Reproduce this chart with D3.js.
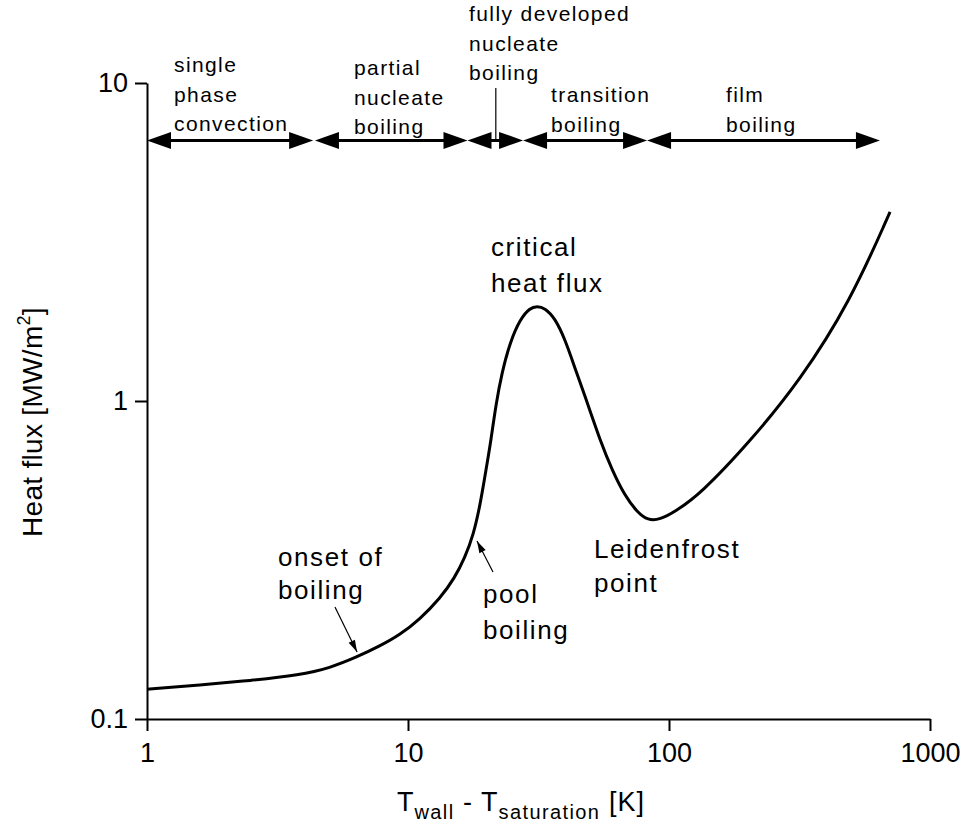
<!DOCTYPE html>
<html>
<head>
<meta charset="utf-8">
<script src="https://cdn.jsdelivr.net/npm/d3@7"></script>
<style>
  body { margin: 0; background: #fff; }
  svg { display: block; font-family: "Liberation Sans", Arial, sans-serif; }
</style>
</head>
<body>
<div class="vis"></div>
<script>
// boiling curve, values (K, MW/m2)
var deltaT = [1, 1.6, 2.48, 3.86, 5.02, 6.38, 7.81, 9.32, 11.1, 13.3, 15.1, 16.5, 17.8, 18.9, 19.9, 20.8, 21.7, 22.9, 24.6, 26.9, 29.3, 31.2, 33.5, 36.6, 40.0, 43.6, 49.0, 54.4, 60.5, 67.8, 75.4, 83.1, 92.4, 105, 132, 204, 318, 494, 703];
var heatFlux = [0.124, 0.128, 0.132, 0.1375, 0.1447, 0.1567, 0.1697, 0.184, 0.206, 0.240, 0.278, 0.321, 0.379, 0.471, 0.607, 0.754, 0.971, 1.23, 1.53, 1.81, 1.96, 1.99, 1.96, 1.82, 1.56, 1.27, 0.971, 0.754, 0.607, 0.503, 0.448, 0.421, 0.424, 0.448, 0.510, 0.744, 1.16, 2.05, 3.93];

var xTicks = [1, 10, 100, 1000];
var yTicks = [0.1, 1, 10];

// regimes across the top (arrow from start to end, in K)
var regimeNames = [["single", "phase", "convection"], ["partial", "nucleate", "boiling"], ["fully developed", "nucleate", "boiling"], ["transition", "boiling"], ["film", "boiling"]];
var regimeStart = [1, 4.4, 16.9, 27.6, 82.4];
var regimeEnd = [4.33, 16.9, 27.6, 82.4, 643];
var regimeFlux = 6.6;
var fullyDevMark = 21.7;

// labels on the curve and their pointers
var noteText = [["critical", "heat flux"], ["Leidenfrost", "point"], ["onset of", "boiling"], ["pool", "boiling"]];
var pointerFrom = [[5.25, 0.225], [21.17, 0.29]];
var pointerTo = [[6.38, 0.1624], [18.38, 0.363]];

var chart = {

  hold: {},

  setUp: function(){
    var svg = d3.select(".vis").append("svg")
      .attr("width", 966)
      .attr("height", 828);
    svg.append("rect").attr("width", 966).attr("height", 828).attr("fill", "#fff");
    chart.hold.svg = svg;

    chart.hold.x = d3.scaleLog().domain([1, 1000]).range([147, 930]);
    chart.hold.y = d3.scaleLog().domain([0.1, 10]).range([719, 83]);

    chart.drawAxes();
    chart.drawCurve();
    chart.drawRegimes();
    chart.drawNotes();
  },

  minors: function(lo, hi){
    var out = [];
    for (var d = lo; d < hi; d *= 10){
      for (var k = 2; k <= 9; k++) out.push(d * k);
    }
    return out;
  },

  drawAxes: function(){
    var svg = chart.hold.svg, x = chart.hold.x, y = chart.hold.y;

    var gx = svg.append("g").attr("transform", "translate(0,719)");
    gx.call(d3.axisBottom(x).tickValues(chart.minors(1, 1000)).tickSize(6).tickSizeOuter(0).tickFormat(""));
    gx.call(d3.axisBottom(x).tickValues(xTicks).tickSize(12).tickSizeOuter(0).tickPadding(12).tickFormat(d3.format("d")));

    var gy = svg.append("g").attr("transform", "translate(147,0)");
    gy.call(d3.axisLeft(y).tickValues(chart.minors(0.1, 10)).tickSize(6).tickSizeOuter(0).tickFormat(""));
    gy.call(d3.axisLeft(y).tickValues(yTicks).tickSize(12).tickSizeOuter(0).tickPadding(7).tickFormat(function(d){ return d < 1 ? "0.1" : d3.format("d")(d); }));

    svg.selectAll(".domain, .tick line").attr("stroke", "#000").attr("stroke-width", 2);
    svg.selectAll(".tick text")
      .attr("font-family", "Liberation Sans, Arial, sans-serif")
      .attr("font-size", 27)
      .attr("fill", "#000");

    // axis titles
    var xt = svg.append("text")
      .attr("x", 397).attr("y", 811)
      .attr("font-size", 27)
      .attr("letter-spacing", 1);
    xt.append("tspan").text("T");
    xt.append("tspan").attr("font-size", 20).attr("letter-spacing", 1.4).attr("dy", 8).text("wall");
    xt.append("tspan").attr("dy", -8).text(" - T");
    xt.append("tspan").attr("font-size", 20).attr("letter-spacing", 1.4).attr("dy", 8).text("saturation");
    xt.append("tspan").attr("dy", -8).text(" [K]");

    var yt = svg.append("text")
      .attr("transform", "translate(42,422) rotate(-90)")
      .attr("text-anchor", "middle")
      .attr("font-size", 28)
      .attr("letter-spacing", 0.3);
    yt.append("tspan").text("Heat flux [MW/m");
    yt.append("tspan").attr("font-size", 18).attr("dy", -12).text("2");
    yt.append("tspan").attr("dy", 12).text("]");
  },

  drawCurve: function(){
    var x = chart.hold.x, y = chart.hold.y;
    var pts = deltaT.map(function(d, i){ return [d, heatFlux[i]]; });
    var line = d3.line()
      .x(function(d){ return x(d[0]); })
      .y(function(d){ return y(d[1]); })
      .curve(d3.curveBasis);

    chart.hold.svg.append("path")
      .attr("d", line(pts))
      .attr("fill", "none")
      .attr("stroke", "#000")
      .attr("stroke-width", 3);
  },

  head: function(tx, ty, fx, fy, len, half){
    var a = Math.atan2(ty - fy, tx - fx);
    var bx = tx - len * Math.cos(a), by = ty - len * Math.sin(a);
    var nx = -Math.sin(a) * half, ny = Math.cos(a) * half;
    return "M" + tx + "," + ty + "L" + (bx + nx) + "," + (by + ny) + "L" + (bx - nx) + "," + (by - ny) + "Z";
  },

  drawRegimes: function(){
    var svg = chart.hold.svg, x = chart.hold.x, y = chart.hold.y;
    var ay = y(regimeFlux);
    var g = svg.append("g");

    regimeStart.forEach(function(s, i){
      var x0 = x(s), x1 = x(regimeEnd[i]);
      g.append("line")
        .attr("x1", x0 + 10).attr("x2", x1 - 10)
        .attr("y1", ay).attr("y2", ay)
        .attr("stroke", "#000").attr("stroke-width", 3);
      g.append("path").attr("d", chart.head(x0, ay, x0 + 1, ay, 24, 8.5)).attr("fill", "#000");
      g.append("path").attr("d", chart.head(x1, ay, x1 - 1, ay, 24, 8.5)).attr("fill", "#000");
    });

    g.append("line")
      .attr("x1", x(fullyDevMark)).attr("x2", x(fullyDevMark))
      .attr("y1", 88).attr("y2", ay)
      .attr("stroke", "#000").attr("stroke-width", 1.2);

    // label anchors (left x, first baseline)
    var spots = [[174, 72], [354, 75], [469, 21], [551, 102], [726, 102]];
    regimeNames.forEach(function(lines, i){
      var t = g.append("text")
        .attr("font-size", 21)
        .attr("letter-spacing", 1.4)
        .attr("fill", "#000");
      lines.forEach(function(l, j){
        t.append("tspan").attr("x", spots[i][0]).attr("y", spots[i][1] + j * 29.5).text(l);
      });
    });
  },

  drawNotes: function(){
    var svg = chart.hold.svg, x = chart.hold.x, y = chart.hold.y;
    var spots = [[491, 256, 36], [594, 558, 34], [278, 566, 33], [483, 603, 36]];

    noteText.forEach(function(lines, i){
      var t = svg.append("text")
        .attr("font-size", 26)
        .attr("letter-spacing", 1.6)
        .attr("fill", "#000");
      lines.forEach(function(l, j){
        t.append("tspan").attr("x", spots[i][0]).attr("y", spots[i][1] + j * spots[i][2]).text(l);
      });
    });

    pointerFrom.forEach(function(f, i){
      var fx = x(f[0]), fy = y(f[1]);
      var tx = x(pointerTo[i][0]), ty = y(pointerTo[i][1]);
      svg.append("line")
        .attr("x1", fx).attr("y1", fy).attr("x2", tx).attr("y2", ty)
        .attr("stroke", "#000").attr("stroke-width", 1.2);
      svg.append("path").attr("d", chart.head(tx, ty, fx, fy, 12, 3.5)).attr("fill", "#000");
    });
  }
};

chart.setUp();
</script>
</body>
</html>
